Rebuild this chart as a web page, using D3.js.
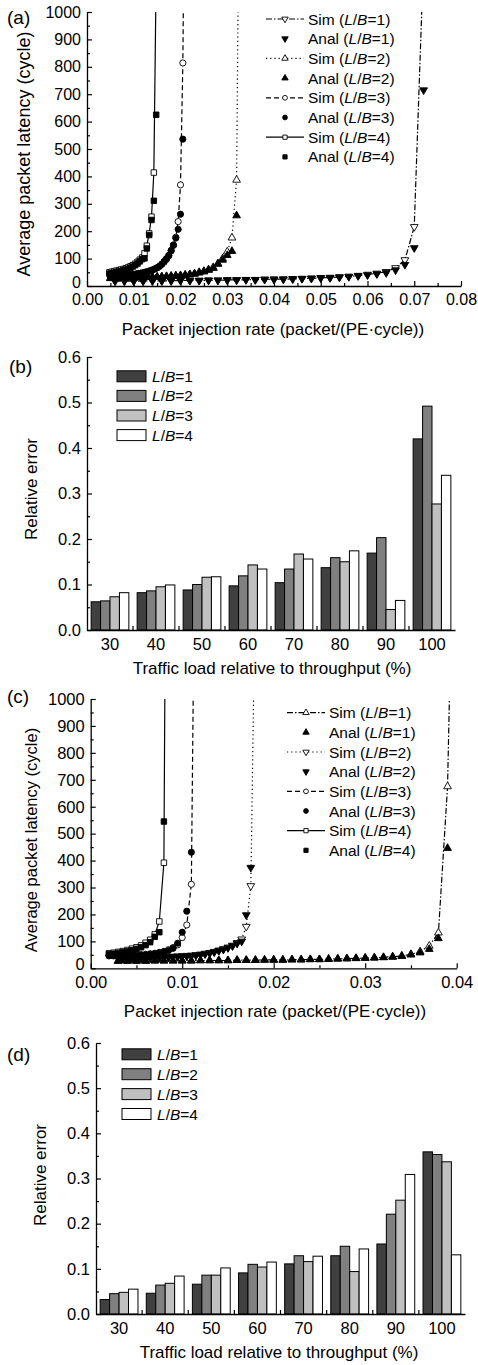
<!DOCTYPE html>
<html>
<head>
<meta charset="utf-8">
<script src="https://cdn.jsdelivr.net/npm/d3@7"></script>
<style>
  body { margin: 0; background: #fff; }
  svg text { font-family: "Liberation Sans", Arial, Helvetica, sans-serif; fill: #000; }
</style>
</head>
<body>
<svg id="fig" width="478" height="1365"></svg>
<script>
// ---- panel (a): latency vs injection rate ----
const A1_X = [0.006,0.008,0.010,0.012,0.014,0.016,0.018,0.020,0.022,0.024,0.026,0.028,0.030,0.032,0.034,0.036,0.038,0.040,0.042,0.044,0.046,0.048,0.050,0.052,0.054,0.056,0.058,0.060,0.062,0.064,0.066,0.068,0.070,0.072];
const A1_SIM = [18,18,18,18,19,19,19,20,20,20,21,21,22,22,23,23,24,25,25,26,27,28,30,31,33,35,38,42,46,52,66,95,216,null];
const A1_ANAL = [18,18,18,18,19,19,19,20,20,20,21,21,22,22,23,23,24,24,25,26,27,28,29,30,32,34,37,40,44,48,58,78,139,715];

const A2_X = [0.005,0.006,0.007,0.008,0.009,0.010,0.011,0.012,0.013,0.014,0.015,0.016,0.017,0.018,0.019,0.020,0.021,0.022,0.023,0.024,0.025,0.026,0.027,0.028,0.029,0.030,0.031,0.032];
const A2_SIM = [28,28,29,29,30,30,31,31,32,33,33,34,35,36,37,38,40,42,45,50,54,60,68,82,100,125,176,387];
const A2_ANAL = [28,28,29,29,30,30,31,31,32,33,33,34,35,36,37,38,40,42,44,48,52,58,65,80,95,112,127,257];

const A3_X = [0.005,0.0055,0.006,0.0065,0.007,0.0075,0.008,0.0085,0.009,0.0095,0.010,0.0105,0.011,0.0115,0.012,0.0125,0.013,0.0135,0.014,0.0145,0.015,0.0155,0.016,0.0165,0.017,0.0175,0.018,0.0185,0.019,0.0195,0.020,0.0205];
const A3_SIM = [36,36,37,37,38,38,39,40,41,42,43,44,46,47,49,51,53,56,59,63,67,72,79,87,97,110,128,148,178,235,369,814];
const A3_ANAL = [35,35,36,36,37,37,38,39,40,41,42,43,45,46,48,50,52,55,58,62,66,72,80,90,100,112,130,150,175,207,262,536];

const A4_X = [0.0048,0.0053,0.0058,0.0063,0.0068,0.0073,0.0078,0.0083,0.0088,0.0093,0.0098,0.0103,0.0108,0.0113,0.0118,0.0123,0.0128,0.0133,0.0138,0.0143,0.0148];
const A4_SIM = [50,52,54,56,58,60,62,65,68,72,76,81,88,96,104,119,147,192,253,414,null];
const A4_ANAL = [45,47,49,51,53,55,57,60,63,67,71,76,82,90,98,101,137,186,241,311,625];

// x where each Sim curve leaves the top of the plot (latency 1000)
const A_TOP = [0.0716, 0.0323, 0.0206, 0.0147];

// ---- panel (c) ----
const C1_X = [0.003,0.004,0.005,0.006,0.007,0.008,0.009,0.010,0.011,0.012,0.013,0.014,0.015,0.016,0.017,0.018,0.019,0.020,0.021,0.022,0.023,0.024,0.025,0.026,0.027,0.028,0.029,0.030,0.031,0.032,0.033,0.034,0.035,0.036,0.037,0.038,0.039];
const C1_SIM = [27,27,27,27,28,28,28,28,28,29,29,29,29,30,30,30,31,31,31,32,32,33,33,34,35,36,37,38,39,41,43,46,52,62,83,132,675];
const C1_ANAL = [27,27,27,27,28,28,28,28,28,29,29,29,29,30,30,30,31,31,31,32,32,33,33,34,35,36,37,38,39,40,42,45,50,58,71,111,446];

const C2_X = [0.003,0.0035,0.004,0.0045,0.005,0.0055,0.006,0.0065,0.007,0.0075,0.008,0.0085,0.009,0.0095,0.010,0.0105,0.011,0.0115,0.012,0.0125,0.013,0.0135,0.014,0.0145,0.015,0.0155,0.016,0.0165,0.017,0.0175];
const C2_SIM = [38,38,38,39,39,39,40,40,41,41,42,43,44,45,46,47,48,50,52,55,58,62,67,72,78,85,95,108,155,306];
const C2_ANAL = [36,36,36,37,37,37,38,38,39,39,40,41,42,43,44,45,46,48,50,53,56,60,65,70,76,83,92,100,198,374];

const C3_X = [0.002,0.0025,0.003,0.0035,0.004,0.0045,0.005,0.0055,0.006,0.0065,0.007,0.0075,0.008,0.0085,0.009,0.0095,0.010,0.0105,0.011];
const C3_SIM = [48,48,48,48,49,49,50,51,52,54,56,59,63,69,77,87,114,161,312];
const C3_ANAL = [46,46,46,46,47,47,48,49,50,52,54,57,61,66,74,93,134,212,431];

const C4_X = [0.002,0.0025,0.003,0.0035,0.004,0.0045,0.005,0.0055,0.006,0.0065,0.007,0.0075,0.008];
const C4_SIM = [56,58,61,64,68,73,78,85,95,106,126,174,392];
const C4_ANAL = [53,54,57,60,63,67,72,78,86,97,117,134,545];

const C_TOP = [0.0392, 0.0178, 0.0112, 0.0081];

// ---- bar panels (b) and (d) ----
const loads = ["30", "40", "50", "60", "70", "80", "90", "100"];
const lbNames = ["1", "2", "3", "4"];
const errB = [
  [0.062, 0.082, 0.088, 0.097, 0.104, 0.137, 0.169, 0.420],
  [0.064, 0.086, 0.100, 0.119, 0.134, 0.159, 0.203, 0.492],
  [0.073, 0.095, 0.116, 0.143, 0.167, 0.150, 0.045, 0.277],
  [0.082, 0.099, 0.117, 0.134, 0.156, 0.174, 0.065, 0.340],
];
const errD = [
  [0.032, 0.046, 0.066, 0.091, 0.111, 0.129, 0.155, 0.359],
  [0.045, 0.064, 0.086, 0.110, 0.129, 0.150, 0.221, 0.353],
  [0.048, 0.068, 0.086, 0.104, 0.116, 0.094, 0.252, 0.337],
  [0.055, 0.084, 0.102, 0.115, 0.128, 0.144, 0.309, 0.131],
];

const barFill = ["#404040", "#808080", "#c0c0c0", "#ffffff"];
const dashes = ["6,2,1.5,2", "1.2,3", "5,3", null];

const svg = d3.select("#fig");

function drawSymbol(sel, kind, filled, size) {
  const type = kind === "circle" ? d3.symbolCircle
    : kind === "square" ? d3.symbolSquare
    : d3.symbolTriangle;
  sel.attr("d", d3.symbol().type(type).size(size))
    .attr("fill", filled ? "#000" : "#fff")
    .attr("stroke", "#000")
    .attr("stroke-width", 0.9);
}

function styleAxis(g, fontSize) {
  g.select(".domain").attr("stroke-width", 1.3);
  g.selectAll(".tick line").attr("stroke-width", 1.2);
  g.selectAll("text").attr("font-size", fontSize).attr("font-family", null).attr("fill", "#000");
  g.attr("font-family", null);
}

function lbLabel(textSel, prefix) {
  textSel.append("tspan").text(prefix);
  textSel.append("tspan").attr("font-style", "italic").text("L");
  textSel.append("tspan").text("/");
  textSel.append("tspan").attr("font-style", "italic").text("B");
}

function drawLinePanel(p) {
  const g = svg.append("g");
  const x = d3.scaleLinear().domain([0, p.xMax]).range([p.left, p.right]);
  const y = d3.scaleLinear().domain([0, 1000]).range([p.bottom, p.top]);

  svg.append("clipPath").attr("id", "clip" + p.id)
    .append("rect")
    .attr("x", p.left).attr("y", p.top)
    .attr("width", p.right - p.left).attr("height", p.bottom - p.top);

  // axes
  const yMinor = g.append("g").attr("transform", `translate(${p.left},0)`)
    .call(d3.axisLeft(y).tickValues(d3.range(50, 1000, 100)).tickSize(-3).tickSizeOuter(0).tickFormat(""));
  yMinor.select(".domain").remove();
  const yAx = g.append("g").attr("transform", `translate(${p.left},0)`)
    .call(d3.axisLeft(y).tickValues(d3.range(0, 1001, 100)).tickSize(-5).tickSizeOuter(0).tickPadding(6).tickFormat(d3.format("d")));
  styleAxis(yMinor, p.tickFont);
  styleAxis(yAx, p.tickFont);
  // the zero label sits a little higher, clear of the x tick labels
  yAx.selectAll(".tick text").filter((d) => d === 0).attr("dy", "0.1em");

  const xMinor = g.append("g").attr("transform", `translate(0,${p.bottom})`)
    .call(d3.axisBottom(x).tickValues(d3.range(0.005, p.xMax, 0.01)).tickSize(-3).tickSizeOuter(0).tickFormat(""));
  xMinor.select(".domain").remove();
  const xAx = g.append("g").attr("transform", `translate(0,${p.bottom})`)
    .call(d3.axisBottom(x).tickValues(d3.range(0, p.xMax + 0.0001, 0.01)).tickSize(-5).tickSizeOuter(0).tickPadding(8).tickFormat(d3.format(".2f")));
  styleAxis(xMinor, p.tickFont);
  styleAxis(xAx, p.tickFont);

  // curves
  const line = d3.line().x((d) => x(d[0])).y((d) => y(d[1]));
  p.series.forEach((s, i) => {
    const pts = s.x.map((xv, j) => [xv, s.sim[j]]).filter((d) => d[1] != null);
    pts.push([s.top, 1000]);
    g.append("path").datum(pts)
      .attr("d", line)
      .attr("fill", "none")
      .attr("stroke", "#000")
      .attr("stroke-width", 1.2)
      .attr("stroke-dasharray", dashes[i])
      .attr("clip-path", `url(#clip${p.id})`);
  });

  // markers
  p.series.forEach((s) => {
    [["sim", false], ["anal", true]].forEach(([key, filled]) => {
      const pts = s.x.map((xv, j) => [xv, s[key][j]]).filter((d) => d[1] != null);
      g.append("g").selectAll("path").data(pts).join("path")
        .call(drawSymbol, s.kind, filled, s.kind === "circle" ? 30 : s.kind === "square" ? 30 : 26)
        .attr("transform", (d) => `translate(${x(d[0])},${y(d[1])})${s.down ? " rotate(180)" : ""}`);
    });
  });

  // legend
  const lg = g.append("g");
  p.series.forEach((s, i) => {
    ["Sim", "Anal"].forEach((name, k) => {
      const ry = p.legY + (i * 2 + k) * p.legStep;
      if (k === 0) {
        lg.append("line")
          .attr("x1", p.legX).attr("x2", p.legX + 38)
          .attr("y1", ry).attr("y2", ry)
          .attr("stroke", "#000").attr("stroke-width", 1.2)
          .attr("stroke-dasharray", dashes[i]);
      }
      lg.append("path")
        .call(drawSymbol, s.kind, k === 1, 18)
        .attr("transform", `translate(${p.legX + 19},${ry})${s.down ? " rotate(180)" : ""}`);
      const t = lg.append("text")
        .attr("x", p.legX + 42).attr("y", ry).attr("dy", "0.36em")
        .attr("font-size", 15.5);
      lbLabel(t, name + " (");
      t.append("tspan").text("=" + lbNames[i] + ")");
    });
  });

  // titles
  g.append("text").attr("x", p.xTitleX).attr("y", p.xTitleY)
    .attr("text-anchor", "middle").attr("font-size", 17)
    .text("Packet injection rate (packet/(PE\u00b7cycle))");
  g.append("text")
    .attr("transform", `translate(${p.yTitleX},${p.yTitleY}) rotate(-90)`)
    .attr("text-anchor", "middle").attr("font-size", p.yTitleFont)
    .text("Average packet latency (cycle)");
  g.append("text").attr("x", p.tagX).attr("y", p.tagY)
    .attr("font-size", 19).text(p.tag);
}

function drawBarPanel(p) {
  const g = svg.append("g");
  const x = d3.scaleBand().domain(loads).range([p.left, p.right]).paddingInner(0.18).paddingOuter(0.09);
  const xs = d3.scaleBand().domain(lbNames).range([0, x.bandwidth()]);
  const y = d3.scaleLinear().domain([0, 0.6]).range([p.bottom, p.top]);

  const yMinor = g.append("g").attr("transform", `translate(${p.left},0)`)
    .call(d3.axisLeft(y).tickValues(d3.range(0.05, 0.6, 0.1)).tickSize(-3).tickSizeOuter(0).tickFormat(""));
  yMinor.select(".domain").remove();
  styleAxis(yMinor, 16.5);

  // bars
  p.data.forEach((vals, si) => {
    g.append("g").selectAll("rect").data(vals).join("rect")
      .attr("x", (d, j) => x(loads[j]) + xs(lbNames[si]))
      .attr("y", (d) => y(d))
      .attr("width", xs.bandwidth())
      .attr("height", (d) => y(0) - y(d))
      .attr("fill", barFill[si])
      .attr("stroke", "#000")
      .attr("stroke-width", 1);
  });

  const yAx = g.append("g").attr("transform", `translate(${p.left},0)`)
    .call(d3.axisLeft(y).tickValues(d3.range(0, 0.61, 0.1)).tickSize(-5).tickSizeOuter(0).tickPadding(6).tickFormat(d3.format(".1f")));
  styleAxis(yAx, 16.5);

  const xAx = g.append("g").attr("transform", `translate(0,${p.bottom})`)
    .call(d3.axisBottom(x).tickSize(0).tickSizeOuter(0).tickPadding(8));
  styleAxis(xAx, 16.5);
  // ticks at group boundaries
  g.append("g").selectAll("line").data(loads.slice(1)).join("line")
    .attr("x1", (d) => x(d) - x.step() * x.paddingInner() / 2)
    .attr("x2", (d) => x(d) - x.step() * x.paddingInner() / 2)
    .attr("y1", p.bottom).attr("y2", p.bottom - 4)
    .attr("stroke", "#000").attr("stroke-width", 1.2);

  // legend
  lbNames.forEach((n, i) => {
    const ry = p.legY + i * p.legStep;
    g.append("rect")
      .attr("x", p.legX).attr("y", ry - 5.5)
      .attr("width", 29).attr("height", 11)
      .attr("fill", barFill[i]).attr("stroke", "#000").attr("stroke-width", 1);
    const t = g.append("text").attr("x", p.legX + 35).attr("y", ry).attr("dy", "0.36em")
      .attr("font-size", 15.5);
    lbLabel(t, "");
    t.append("tspan").text("=" + n);
  });

  g.append("text").attr("x", p.xTitleX).attr("y", p.xTitleY)
    .attr("text-anchor", "middle").attr("font-size", 17)
    .text("Traffic load relative to throughput (%)");
  g.append("text")
    .attr("transform", `translate(${p.yTitleX},${p.yTitleY}) rotate(-90)`)
    .attr("text-anchor", "middle").attr("font-size", 17)
    .text("Relative error");
  g.append("text").attr("x", p.tagX).attr("y", p.tagY)
    .attr("font-size", 19).text(p.tag);
}

drawLinePanel({
  id: "a", tag: "(a)", tagX: 7, tagY: 24,
  left: 87, right: 461, top: 12, bottom: 286, xMax: 0.08, tickFont: 16,
  xTitleX: 273, xTitleY: 335, yTitleX: 30, yTitleY: 154, yTitleFont: 18,
  legX: 266, legY: 19, legStep: 19.7,
  series: [
    { x: A1_X, sim: A1_SIM, anal: A1_ANAL, top: A_TOP[0], kind: "tri", down: true },
    { x: A2_X, sim: A2_SIM, anal: A2_ANAL, top: A_TOP[1], kind: "tri", down: false },
    { x: A3_X, sim: A3_SIM, anal: A3_ANAL, top: A_TOP[2], kind: "circle" },
    { x: A4_X, sim: A4_SIM, anal: A4_ANAL, top: A_TOP[3], kind: "square" },
  ],
});

drawBarPanel({
  tag: "(b)", tagX: 9, tagY: 373, data: errB,
  left: 87, right: 455, top: 357, bottom: 630,
  legX: 117, legY: 376.3, legStep: 19.6,
  xTitleX: 272, xTitleY: 673.5, yTitleX: 36.5, yTitleY: 489,
});

drawLinePanel({
  id: "c", tag: "(c)", tagX: 7, tagY: 703,
  left: 90.7, right: 456.7, top: 699, bottom: 968.3, xMax: 0.04, tickFont: 16.5,
  xTitleX: 275, xTitleY: 1016.5, yTitleX: 36.5, yTitleY: 840, yTitleFont: 16.5,
  legX: 287, legY: 712.7, legStep: 19.66,
  series: [
    { x: C1_X, sim: C1_SIM, anal: C1_ANAL, top: C_TOP[0], kind: "tri", down: false },
    { x: C2_X, sim: C2_SIM, anal: C2_ANAL, top: C_TOP[1], kind: "tri", down: true },
    { x: C3_X, sim: C3_SIM, anal: C3_ANAL, top: C_TOP[2], kind: "circle" },
    { x: C4_X, sim: C4_SIM, anal: C4_ANAL, top: C_TOP[3], kind: "square" },
  ],
});

drawBarPanel({
  tag: "(d)", tagX: 7, tagY: 1061, data: errD,
  left: 96, right: 465, top: 1043, bottom: 1314,
  legX: 122, legY: 1054.3, legStep: 19.9,
  xTitleX: 279, xTitleY: 1358, yTitleX: 46, yTitleY: 1175,
});
</script>
</body>
</html>
